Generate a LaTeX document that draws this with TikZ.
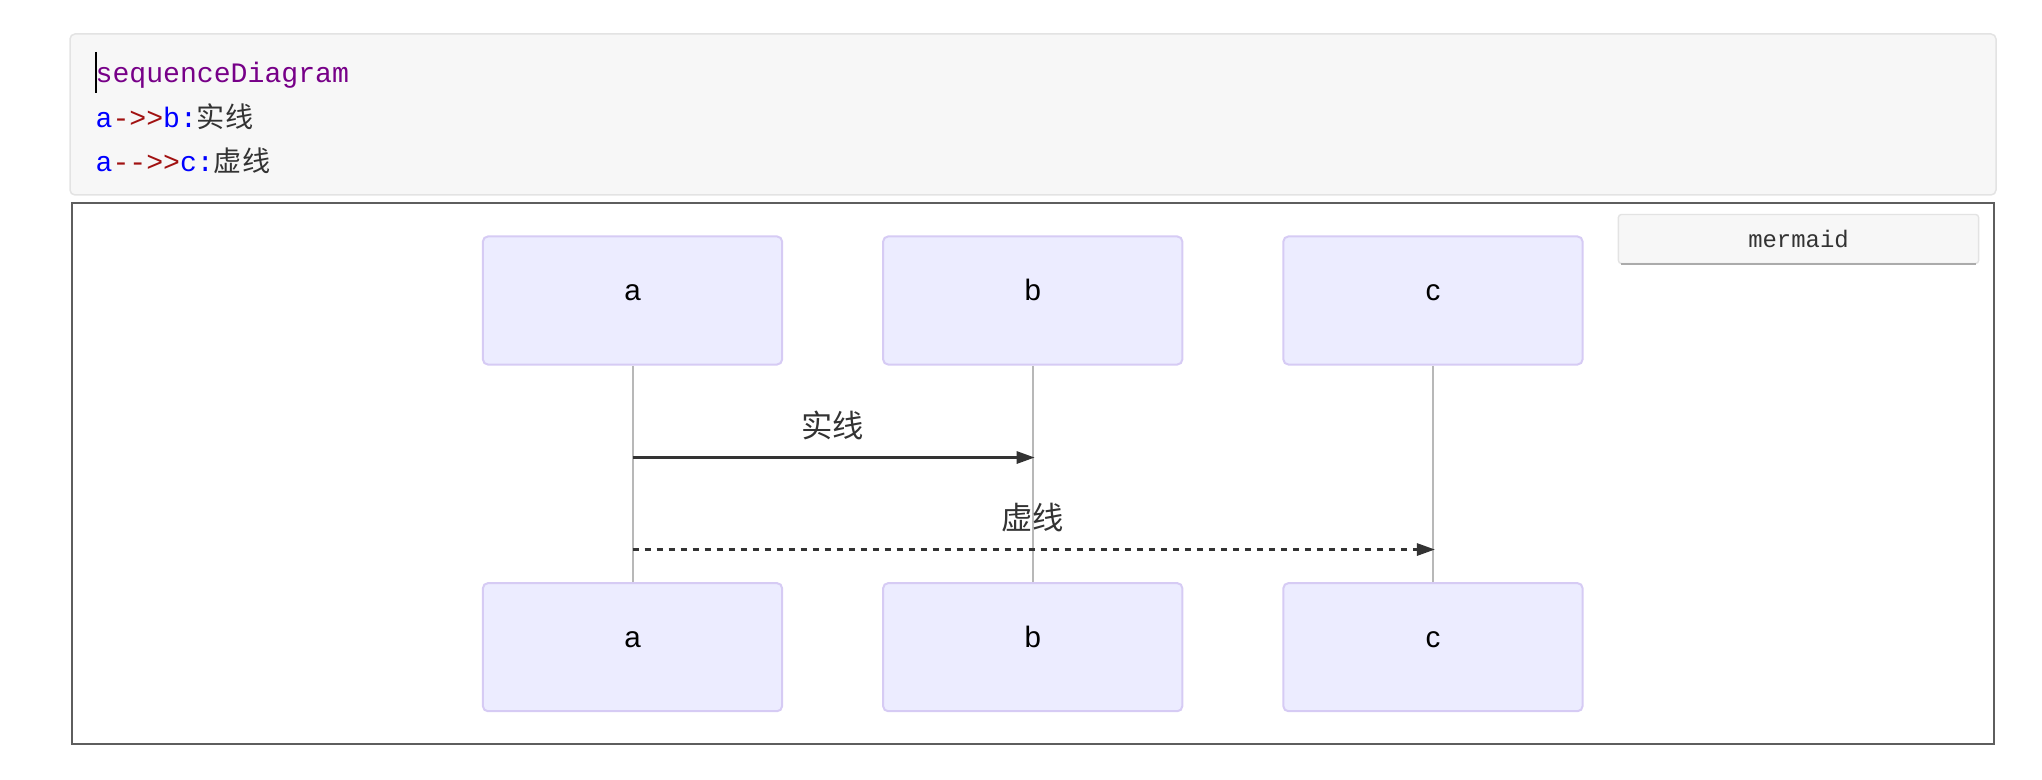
\documentclass[tikz,border=0pt]{standalone}
\usepackage{fontspec}
\setmainfont{Liberation Sans}
\setmonofont{Liberation Mono}
\newfontfamily\cjk{Noto Sans CJK SC}
\usepackage{xcolor}
\usetikzlibrary{positioning, arrows.meta}

\definecolor{actorfill}{HTML}{ECECFF}
\definecolor{actorline}{HTML}{D6CBF4}
\definecolor{lifeline}{HTML}{B8B8B8}
\definecolor{msgline}{HTML}{333333}
\definecolor{codebg}{HTML}{F7F7F7}
\definecolor{codeedge}{HTML}{E3E3E3}
\definecolor{kwpurple}{HTML}{770088}
\definecolor{idblue}{HTML}{0000FF}
\definecolor{oprred}{HTML}{A11111}
\definecolor{frameline}{HTML}{5E5E5E}
\definecolor{btnshadow}{HTML}{ABABAB}

\begin{document}
\begin{tikzpicture}[x=0.01cm, y=-0.01cm, node distance=4cm,
    actor/.style={draw=actorline, line width=0.02cm, fill=actorfill, rounded corners=0.05cm,
                  minimum width=2.99cm, minimum height=1.28cm, text height=0.5em, text depth=0.5em,
                  font=\fontsize{8.4}{10}\selectfont},
    msg/.style={draw=msgline, line width=0.028cm, shorten >=-0.02cm,
                -{Triangle[length=0.18cm,width=0.12cm]}},
    lbl/.style={font=\cjk\fontsize{8.9}{10}\selectfont, text=msgline},
    code/.style={anchor=base west, inner sep=0pt, font=\ttfamily\fontsize{8}{10}\selectfont},
    btn/.style={draw=codeedge, fill=codebg, rounded corners=0.03cm, minimum width=3.6cm,
                minimum height=0.49cm, text=msgline, font=\ttfamily\fontsize{6.8}{8}\selectfont}]
      \useasboundingbox (0,0) rectangle (2042,780);

      % source block
      \draw[codeedge, fill=codebg, rounded corners=0.05cm, line width=0.015cm] (70,34) rectangle (1996,195);
      \node[code, text=kwpurple] (src0) at (95,83) {sequenceDiagram};
      \node[code] (src1) at (95,128) {\textcolor{idblue}{a}\textcolor{oprred}{->{}>}\textcolor{idblue}{b:}\textcolor{msgline}{\cjk 实线}};
      \node[code] (src2) at (95,172) {\textcolor{idblue}{a}\textcolor{oprred}{-{}->{}>}\textcolor{idblue}{c:}\textcolor{msgline}{\cjk 虚线}};
      \draw[line width=0.02cm] (96,52) -- (96,93);

      % rendered diagram
      \draw[frameline, line width=0.015cm] (72,203) rectangle (1994,744);
      \node[btn] (mermaidBtn) at (1798.5,239) {mermaid};
      \draw[btnshadow, line width=0.025cm] ([xshift=0.03cm]mermaidBtn.south west) -- ([xshift=-0.03cm]mermaidBtn.south east);

      \node[actor] (aTop) at (632.5,300.5) {a};
      \node[actor] (bTop) [right of=aTop] {b};
      \node[actor] (cTop) [right of=bTop] {c};
      \node[actor] (aBot) [below of=aTop, node distance=3.465cm] {a};
      \node[actor] (bBot) [below of=bTop, node distance=3.465cm] {b};
      \node[actor] (cBot) [below of=cTop, node distance=3.465cm] {c};

      \draw[lifeline, line width=0.02cm] (aTop) -- (aBot);
      \draw[lifeline, line width=0.02cm] (bTop) -- (bBot);
      \draw[lifeline, line width=0.02cm] (cTop) -- (cBot);

      \path (aTop.south) ++(0,92) coordinate (m1) ++(0,92) coordinate (m2);
      \draw[msg] (m1) -- (m1 -| bTop) node[lbl, midway, yshift=0.32cm] {实线};
      \draw[msg, dash pattern=on 0.06cm off 0.06cm] (m2) -- (m2 -| cTop) node[lbl, midway, yshift=0.32cm] {虚线};
\end{tikzpicture}
\end{document}
